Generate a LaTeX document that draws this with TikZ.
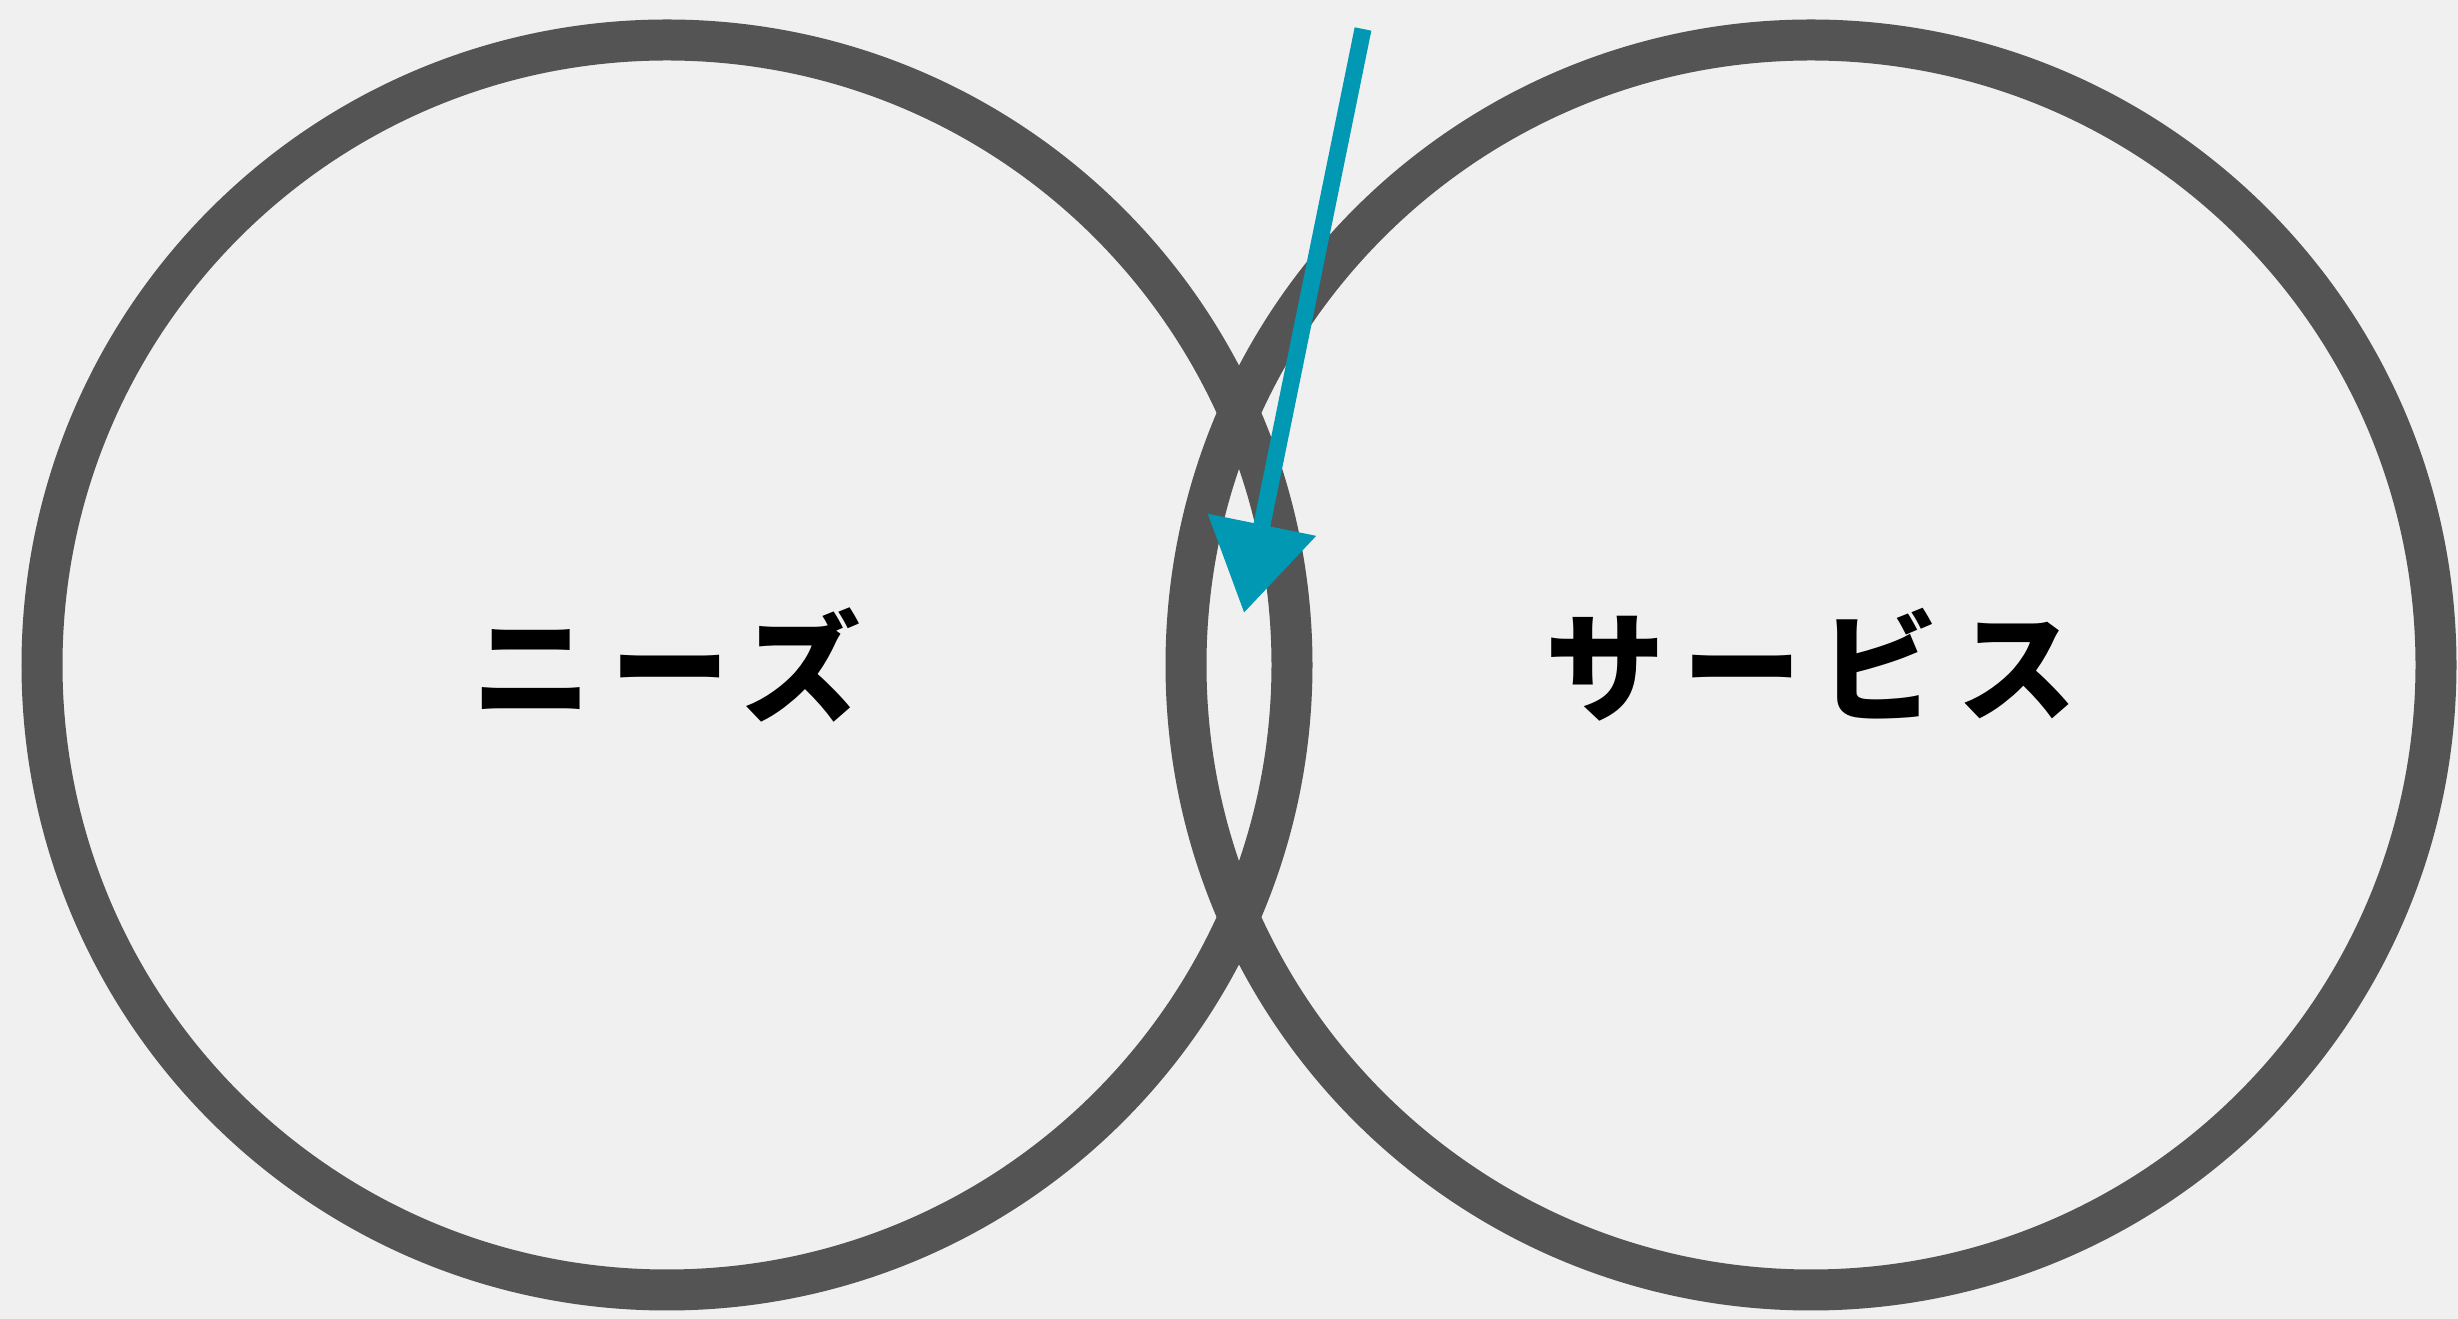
\documentclass[tikz,border=0pt]{standalone}
\usepackage{fontspec}
\usepackage{tikz}
\usetikzlibrary{positioning}
\usetikzlibrary{arrows.meta}
\newfontfamily\jpfont[LetterSpace=15]{Noto Sans CJK JP}
\definecolor{paper}{RGB}{240,240,240}
\definecolor{ringgray}{RGB}{84,84,84}
\definecolor{pointerteal}{RGB}{0,152,178}

\begin{document}
\begin{tikzpicture}[
    ring/.style={draw=ringgray, circle, line width=0.41cm, minimum size=12.5cm, inner sep=0pt, font=\jpfont\bfseries\fontsize{34}{40}\selectfont},
    pointer/.style={draw=pointerteal, line width=0.17cm, -{Triangle[length=0.9cm, width=1.06cm]}}
]
    \useasboundingbox[fill=paper] (0,0) rectangle (24.58,13.19);

    \node [ring] (needs) at (6.67,6.54) {ニーズ};
    \node [ring, on grid, right=11.44cm of needs] (service) {サービス};

    \coordinate (start) at (13.63,12.90);
    \coordinate (tip) at (12.44,7.06);

    \draw [pointer] (start) -- (tip);
\end{tikzpicture}
\end{document}
